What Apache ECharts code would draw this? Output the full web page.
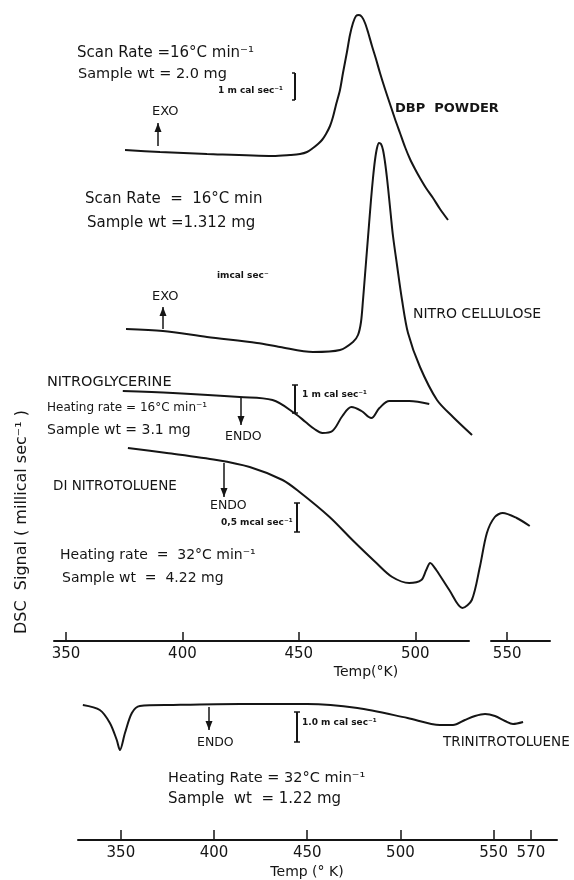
<!DOCTYPE html>
<html>
<head>
<meta charset="utf-8">
<script src="https://cdn.jsdelivr.net/npm/echarts@6/dist/echarts.min.js"></script>
<style>
  html, body { margin: 0; padding: 0; background: #fff; }
  #main { width: 574px; height: 880px; }
</style>
</head>
<body>
<div id="main"></div>
<script>
// tick labels
var topTicks = [350, 400, 450, 500, 550];
var bottomTicks = [350, 400, 450, 500, 550, 570];

// DBP powder (temp K, signal offset units)
var dbpTemp = [375.35, 390.38, 410.56, 438.90, 446.20, 450.49, 453.50, 456.08, 458.22, 459.94, 461.66, 463.38, 464.65, 465.94, 467.66, 468.95, 470.66, 471.95, 473.25, 474.54, 475.83, 477.12, 478.41, 479.69, 481.41, 483.13, 484.85, 487.00, 489.14, 491.29, 493.44, 495.59, 497.73, 499.88, 502.02, 504.60, 507.61, 510.62, 514.05];
var dbpSignal = [49.1, 48.9, 48.7, 48.5, 48.6, 48.7, 48.9, 49.3, 49.7, 50.1, 50.7, 51.5, 52.4, 53.6, 55.1, 56.8, 58.9, 60.6, 61.8, 62.5, 62.6, 62.4, 61.8, 60.9, 59.5, 58.2, 56.8, 55.2, 53.7, 52.2, 50.8, 49.4, 48.2, 47.2, 46.3, 45.3, 44.3, 43.2, 42.1];

// nitrocellulose
var ncTemp = [375.78, 391.67, 410.56, 432.03, 441.91, 456.08, 467.67, 473.25, 475.40, 476.69, 477.55, 478.41, 479.26, 480.12, 480.98, 481.84, 482.70, 483.56, 484.42, 485.28, 486.14, 486.99, 487.85, 488.71, 489.57, 490.43, 492.15, 494.31, 496.88, 502.02, 509.33, 516.19, 525.9];
var ncSignal = [31.2, 31.0, 30.4, 29.8, 29.4, 28.9, 29.1, 29.9, 30.6, 31.9, 34.1, 36.6, 39.1, 41.6, 44.1, 46.3, 48.1, 49.3, 49.8, 49.7, 49.1, 47.9, 46.3, 44.4, 42.4, 40.5, 37.6, 34.1, 30.8, 27.4, 24.1, 22.4, 20.6];

// nitroglycerine
var ngTemp = [374.4, 395.9, 424.6, 438.7, 448.6, 452.9, 456.7, 460.1, 464.4, 468.7, 472.6, 476.9, 481.1, 484.6, 488.9, 497.4, 506.0];
var ngSignal = [25.0, 24.8, 24.4, 24.1, 22.7, 21.9, 21.2, 20.8, 21.0, 22.5, 23.4, 23.0, 22.3, 23.3, 24.0, 24.0, 23.7];

// dinitrotoluene
var dntTemp = [376.6, 393.3, 414.7, 428.9, 443.0, 450.3, 463.2, 473.0, 483.3, 490.1, 497.4, 502.6, 504.7, 506.4, 509.0, 514.6, 520.2, 525.7, 533.0, 539.4, 544.7, 548.1, 554.1, 559.7];
var dntSignal = [19.3, 18.8, 18.1, 17.4, 16.1, 14.9, 12.4, 10.1, 7.8, 6.4, 5.8, 6.1, 7.1, 7.8, 7.1, 5.1, 3.3, 4.1, 7.4, 10.8, 12.4, 12.8, 12.3, 11.5];

// trinitrotoluene (lower panel)
var tntTemp = [329.6, 338.7, 344.1, 347.8, 349.5, 352.2, 355.9, 360.2, 378.0, 414.0, 450.0, 476.9, 503.8, 521.2, 528.2, 534.6, 540.0, 545.4, 550.7, 556.1, 560.4, 565.8];
var tntSignal = [13.5, 13.0, 11.7, 10.0, 9.0, 10.7, 12.7, 13.4, 13.5, 13.6, 13.6, 13.2, 12.2, 11.5, 11.5, 12.0, 12.4, 12.6, 12.4, 11.9, 11.6, 11.8];

function zip(a, b) {
	var out = [];
	for (var i = 0; i < a.length; i++) out.push([a[i], b[i]]);
	return out;
}

var FONT = '"DejaVu Sans"';
var INK = '#151515';

function txt(x, y, s, size, extra) {
	var st = {
		text: s, font: size + 'px ' + FONT, fill: INK,
		textAlign: 'left', textVerticalAlign: 'middle', align: 'left', verticalAlign: 'middle'
	};
	if (extra) for (var k in extra) st[k] = extra[k];
	return { type: 'text', x: x, y: y, style: st, z: 10 };
}
function btxt(x, y, s, size, extra) {
	var t = txt(x, y, s, size, extra);
	t.style.font = 'bold ' + t.style.font;
	return t;
}

// vertical arrow, head at y1
function arrow(x, y1, y2) {
	var dir = y2 > y1 ? 1 : -1;
	return {
		type: 'group', z: 10,
		children: [
			{ type: 'line', shape: { x1: x, y1: y1, x2: x, y2: y2 }, style: { stroke: INK, lineWidth: 1.5 } },
			{ type: 'polygon', shape: { points: [[x, y1], [x - 3.5, y1 + dir * 9], [x + 3.5, y1 + dir * 9]] }, style: { fill: INK } }
		]
	};
}

// scale bar "I"
function bar(x, y1, y2, leftOnly) {
	return {
		type: 'group', z: 10,
		children: [
			{ type: 'line', shape: { x1: x, y1: y1, x2: x, y2: y2 }, style: { stroke: INK, lineWidth: 2 } },
			{ type: 'line', shape: { x1: x - 3, y1: y1, x2: leftOnly ? x : x + 3, y2: y1 }, style: { stroke: INK, lineWidth: 1.5 } },
			{ type: 'line', shape: { x1: x - 3, y1: y2, x2: leftOnly ? x : x + 3, y2: y2 }, style: { stroke: INK, lineWidth: 1.5 } }
		]
	};
}

var lineStyle = { color: INK, width: 2 };
function curve(name, data, gi, sm) {
	return {
		name: name, type: 'line', xAxisIndex: gi, yAxisIndex: gi,
		data: data, showSymbol: false, smooth: sm, lineStyle: lineStyle,
		silent: true
	};
}

var myChart = echarts.init(document.getElementById('main'));

myChart.setOption({
	animation: false,
	backgroundColor: '#fff',
	grid: [
		{ left: 54, right: 24, top: 11, height: 630 },
		{ left: 78, right: 17, top: 690, height: 150 }
	],
	xAxis: [
		{
			type: 'value', gridIndex: 0, min: 344.86, max: 568.4,
			// gap is in axis units here
			breaks: [{ start: 523, end: 543, gap: 9.45 }],
			breakArea: { show: false },
			axisLine: { show: true, onZero: false, lineStyle: { color: INK, width: 2 } },
			axisTick: { show: true, inside: true, length: 9, customValues: topTicks, lineStyle: { color: INK, width: 1.5 } },
			axisLabel: { show: true, customValues: topTicks, margin: 6, color: INK, fontFamily: 'DejaVu Sans', fontSize: 15 },
			splitLine: { show: false }
		},
		{
			type: 'value', gridIndex: 1, min: 327, max: 584,
			axisLine: { show: true, onZero: false, lineStyle: { color: INK, width: 2 } },
			axisTick: { show: true, inside: true, length: 10, customValues: bottomTicks, lineStyle: { color: INK, width: 1.5 } },
			axisLabel: { show: true, customValues: bottomTicks, margin: 6, color: INK, fontFamily: 'DejaVu Sans', fontSize: 15 },
			splitLine: { show: false }
		}
	],
	yAxis: [
		{ type: 'value', gridIndex: 0, min: 0, max: 63, show: false },
		{ type: 'value', gridIndex: 1, min: 0, max: 15, show: false }
	],
	series: [
		curve('DBP POWDER', zip(dbpTemp, dbpSignal), 0, 0.3),
		curve('NITRO CELLULOSE', zip(ncTemp, ncSignal), 0, 0.3),
		curve('NITROGLYCERINE', zip(ngTemp, ngSignal), 0, 0.35),
		curve('DINITROTOLUENE', zip(dntTemp, dntSignal), 0, 0.3),
		curve('TRINITROTOLUENE', zip(tntTemp, tntSignal), 1, 0.3)
	],
	graphic: [
		// gap in top axis line
		{ type: 'rect', shape: { x: 470, y: 636, width: 20, height: 10 }, style: { fill: '#fff' }, z: 5 },

		// DBP
		txt(77, 53, 'Scan Rate =16°C min⁻¹', 15),
		txt(78, 74, 'Sample wt = 2.0 mg', 14.5),
		btxt(218, 91, '1 m cal sec⁻¹', 9),
		bar(295, 73, 100, true),
		txt(152, 112, 'EXO', 13),
		arrow(158, 123, 146),
		btxt(395, 109, 'DBP  POWDER', 13),

		// NC
		txt(85, 199, 'Scan Rate  =  16°C min', 15),
		txt(87, 223, 'Sample wt =1.312 mg', 15),
		btxt(217, 276, 'imcal sec⁻', 9),
		txt(152, 297, 'EXO', 13),
		arrow(163, 307, 329),
		txt(413, 314, 'NITRO CELLULOSE', 14),

		// NG
		txt(47, 382, 'NITROGLYCERINE', 14.5),
		txt(47, 408, 'Heating rate = 16°C min⁻¹', 12),
		txt(47, 430, 'Sample wt = 3.1 mg', 14),
		arrow(241, 425, 398),
		txt(225, 437, 'ENDO', 12.5),
		bar(295, 385, 413),
		btxt(302, 395, '1 m cal sec⁻¹', 9),

		// DNT
		txt(53, 486, 'DI NITROTOLUENE', 13.5),
		arrow(224, 497, 463),
		txt(210, 506, 'ENDO', 12.5),
		btxt(221, 523, '0,5 mcal sec⁻¹', 9),
		bar(297, 503, 532),
		txt(60, 555, 'Heating rate  =  32°C min⁻¹', 14),
		txt(62, 578, 'Sample wt  =  4.22 mg', 14),

		// y title
		{
			type: 'text', x: 22, y: 522, rotation: Math.PI / 2, z: 10,
			style: { text: 'DSC  Signal ( millical sec⁻¹ )', font: '16px ' + FONT, fill: INK,
				textAlign: 'center', textVerticalAlign: 'middle', align: 'center', verticalAlign: 'middle' }
		},
		txt(366, 672, 'Temp(°K)', 14, { textAlign: 'center', align: 'center' }),

		// TNT
		arrow(209, 730, 707),
		txt(197, 743, 'ENDO', 12.5),
		bar(297, 712, 742),
		btxt(302, 723, '1.0 m cal sec⁻¹', 9),
		txt(443, 742, 'TRINITROTOLUENE', 13.5),
		txt(168, 778, 'Heating Rate = 32°C min⁻¹', 14.5),
		txt(168, 799, 'Sample  wt  = 1.22 mg', 15),
		txt(307, 872, 'Temp (° K)', 14, { textAlign: 'center', align: 'center' })
	]
});
</script>
</body>
</html>
